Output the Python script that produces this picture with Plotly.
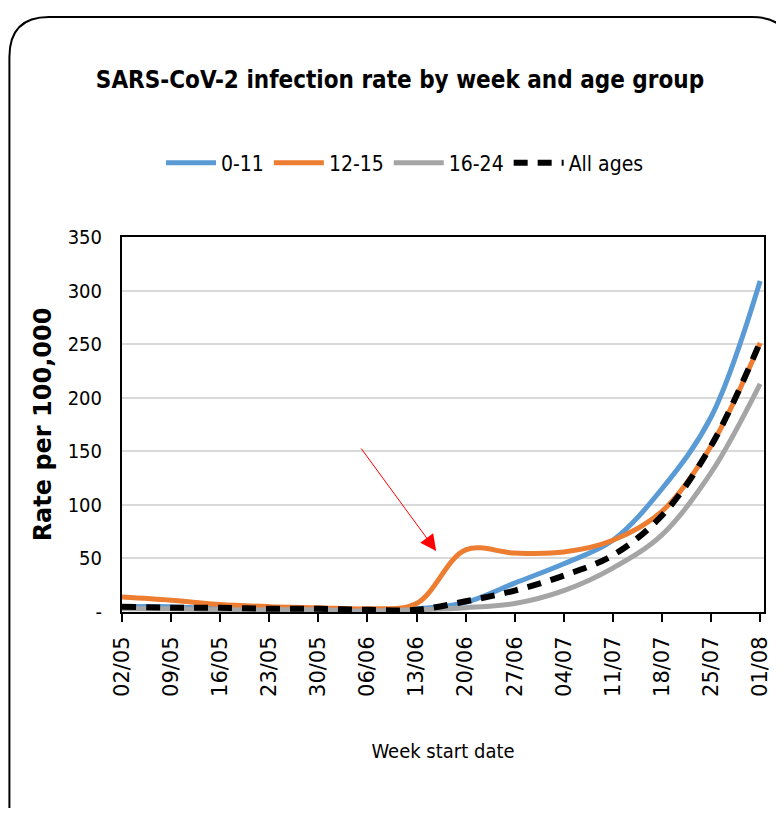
import plotly.graph_objects as go

weeks = ["02/05", "09/05", "16/05", "23/05", "30/05", "06/06", "13/06",
         "20/06", "27/06", "04/07", "11/07", "18/07", "25/07", "01/08"]
age_0_11 = [5, 5, 3, 3, 2, 2, 3, 9, 27, 45, 67, 115, 182, 309]
age_12_15 = [14, 11, 7, 5, 4, 3, 8, 58, 55, 56, 67, 94, 155, 251]
age_16_24 = [3, 3, 2, 2, 2, 1, 2, 4, 8, 20, 41, 72, 130, 213]
all_ages = [5, 4, 4, 3, 3, 2, 2, 10, 20, 34, 53, 90, 155, 252]
y_ticks = [0, 50, 100, 150, 200, 250, 300, 350]
y_tick_text = ["-", "50", "100", "150", "200", "250", "300", "350"]

# the page body has an 8px margin, so figure coords = screen coords - 8
W, H = 776, 800
L, R, T, B = 114, 12, 229, 196
PW, PH = W - L - R, H - T - B

NARROW = "DejaVu Sans Condensed, Liberation Sans Narrow, sans-serif"
WIDE = "DejaVu Sans, Verdana, sans-serif"

x = list(range(len(weeks)))

fig = go.Figure()
series = [
    ("0-11", age_0_11, dict(color="#5B9BD5", width=5)),
    ("12-15", age_12_15, dict(color="#ED7D31", width=5)),
    ("16-24", age_16_24, dict(color="#A5A5A5", width=5)),
    ("All ages", all_ages, dict(color="#000000", width=6, dash="14px,10px")),
]
for name, vals, line in series:
    fig.add_trace(
        go.Scatter(
            x=x,
            y=vals,
            mode="lines",
            name=name,
            line=dict(shape="spline", smoothing=1.0, **line),
            cliponaxis=False,
        )
    )


def px_x(p):
    return (p - L) / PW


def px_y(p):
    return (H - B - p) / PH


# rounded border around the whole chart
x0, y0, x1, y1, r = 0, 9, 792, 842, 40
path = (
    f"M {px_x(x0)},{px_y(y0 + r)} "
    f"Q {px_x(x0)},{px_y(y0)} {px_x(x0 + r)},{px_y(y0)} "
    f"L {px_x(x1 - r)},{px_y(y0)} "
    f"Q {px_x(x1)},{px_y(y0)} {px_x(x1)},{px_y(y0 + r)} "
    f"L {px_x(x1)},{px_y(y1 - r)} "
    f"Q {px_x(x1)},{px_y(y1)} {px_x(x1 - r)},{px_y(y1)} "
    f"L {px_x(x0 + r)},{px_y(y1)} "
    f"Q {px_x(x0)},{px_y(y1)} {px_x(x0)},{px_y(y1 - r)} Z"
)
fig.add_shape(type="path", path=path, xref="paper", yref="paper",
              line=dict(color="black", width=2), layer="above")

# red arrow pointing at the 12-15 bump
fig.add_annotation(
    x=6.4, y=57, xref="x", yref="y",
    ax=4.85, ay=154, axref="x", ayref="y",
    showarrow=True, arrowhead=2, arrowsize=3.2, arrowwidth=1,
    arrowcolor="#FF0000", text="",
)

fig.update_layout(
    width=W,
    height=H,
    margin=dict(l=L, r=R, t=T, b=B),
    paper_bgcolor="white",
    plot_bgcolor="white",
    showlegend=True,
    title=dict(
        text="<b>SARS-CoV-2 infection rate by week and age group</b>",
        x=392 / W, xanchor="center", xref="container",
        y=1 - 72 / H, yanchor="middle", yref="container",
        font=dict(family=NARROW, size=24, color="black"),
    ),
    legend=dict(
        orientation="h",
        x=397 / W, xanchor="center", xref="container",
        y=1 - 155 / H, yanchor="middle", yref="container",
        font=dict(family=NARROW, size=21, color="black"),
        itemwidth=50,
        traceorder="normal",
    ),
    xaxis=dict(
        range=[0, PW / 49.7],
        tickmode="array",
        tickvals=x,
        ticktext=weeks,
        tickangle=-90,
        tickfont=dict(family=WIDE, size=21, color="black"),
        ticks="outside",
        ticklen=8,
        tickwidth=2,
        tickcolor="black",
        ticklabelstandoff=6,
        showgrid=False,
        zeroline=False,
        showline=True,
        mirror=True,
        linecolor="black",
        linewidth=2,
        title=dict(text="Week start date",
                   font=dict(family=NARROW, size=20, color="black"),
                   standoff=48),
    ),
    yaxis=dict(
        range=[0, 350],
        tickmode="array",
        tickvals=y_ticks,
        ticktext=y_tick_text,
        tickfont=dict(family=NARROW, size=20, color="black"),
        ticklabelstandoff=14,
        showgrid=True,
        gridcolor="#D9D9D9",
        gridwidth=2,
        zeroline=False,
        showline=True,
        mirror=True,
        linecolor="black",
        linewidth=2,
        title=dict(text="<b>Rate per 100,000</b>",
                   font=dict(family=WIDE, size=24, color="black"),
                   standoff=9),
    ),
)

fig.write_html("out.html")
